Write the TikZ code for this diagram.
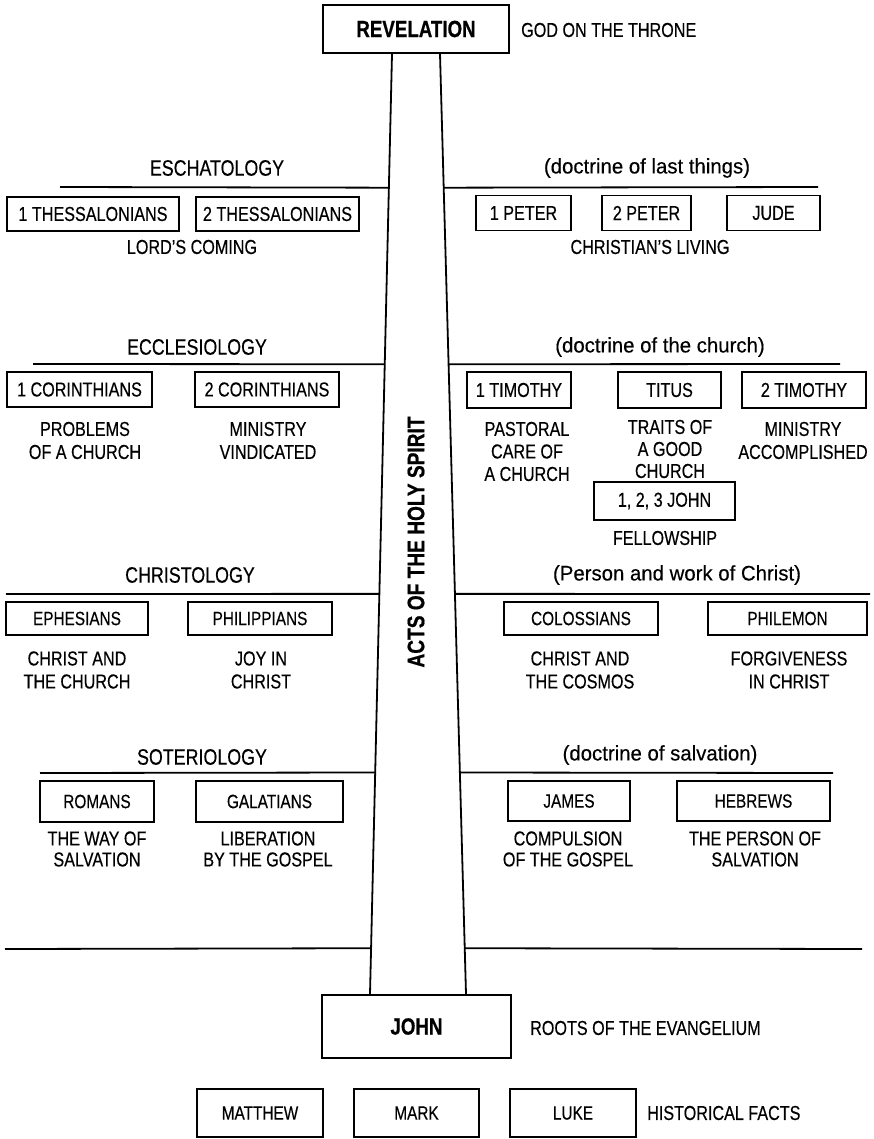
\documentclass[tikz,border=0pt]{standalone}
\usepackage{fontspec}
\setmainfont{Liberation Sans}[FakeStretch=0.8, FakeBold=0.35, BoldFeatures={FakeBold=0.6}]
\newfontfamily\pfont{Liberation Sans}[FakeStretch=0.97, FakeBold=0.35]
\usetikzlibrary{calc}
\begin{document}
\begin{tikzpicture}[x=1pt,y=-1pt,
  bx/.style={draw, line width=1.8pt, inner sep=0pt, font=\fontsize{20.2}{23}\selectfont},
  bxs/.style={bx, font=\fontsize{19.2}{23}\selectfont},
  lbl/.style={inner sep=0pt, align=center, font=\fontsize{20.2}{23}\selectfont},
  lbls/.style={lbl, font=\fontsize{20.2}{21}\selectfont},
  ttl/.style={inner sep=0pt, font=\fontsize{22.3}{26}\selectfont},
  ptl/.style={inner sep=0pt, font=\pfont\fontsize{21}{25}\selectfont},
  bigb/.style={draw, line width=1.8pt, inner sep=0pt, font=\bfseries\fontsize{23.4}{27}\selectfont},
  rule/.style={line width=1.8pt}]
\useasboundingbox (0,0) rectangle (874,1139);
\fill[white] (0,0) rectangle (874,1139);

% top and bottom boxes
\node[bigb, minimum width=186pt, minimum height=48pt] (rev) at (416,29) {REVELATION};
\node[lbl, anchor=west] (revd) at (521,30) {GOD ON THE THRONE};
\node[bigb, minimum width=189pt, minimum height=63pt] (john) at (416.5,1026.5) {JOHN};
\node[lbl, anchor=west] (johnd) at (530,1028) {ROOTS OF THE EVANGELIUM};

% pillar
\coordinate (pTL) at ($(rev.south)+(-24,0)$);
\coordinate (pTR) at ($(rev.south)+(24,0)$);
\coordinate (pBL) at ($(john.north)+(-46.5,0)$);
\coordinate (pBR) at ($(john.north)+(49.5,0)$);
\draw[rule] (pTL) -- (pBL);
\draw[rule] (pTR) -- (pBR);
\node[rotate=90, inner sep=0pt, font=\bfseries\fontsize{23.9}{28}\selectfont] (acts) at (416,542) {ACTS OF THE HOLY SPIRIT};

% rule end points
\coordinate (a1L) at ($(pTL)!0.1423!(pBL)$);
\coordinate (a1R) at ($(pTR)!0.1423!(pBR)$);
\coordinate (a2L) at ($(pTL)!0.3301!(pBL)$);
\coordinate (a2R) at ($(pTR)!0.3301!(pBR)$);
\coordinate (a3L) at ($(pTL)!0.5743!(pBL)$);
\coordinate (a3R) at ($(pTR)!0.5743!(pBR)$);
\coordinate (a4L) at ($(pTL)!0.7643!(pBL)$);
\coordinate (a4R) at ($(pTR)!0.7643!(pBR)$);
\coordinate (a5L) at ($(pTL)!0.9512!(pBL)$);
\coordinate (a5R) at ($(pTR)!0.9512!(pBR)$);
\coordinate (f1L) at (60,187);  \coordinate (f1R) at (818,187);
\coordinate (f2L) at (33,364);  \coordinate (f2R) at (840,364);
\coordinate (f3L) at (6,594);   \coordinate (f3R) at (870,594);
\coordinate (f4L) at (40,773);  \coordinate (f4R) at (833,773);
\coordinate (f5L) at (5,949);   \coordinate (f5R) at (862,949);
\draw[rule] (f1L) -- (a1L); \draw[rule] (a1R) -- (f1R);
\draw[rule] (f2L) -- (a2L); \draw[rule] (a2R) -- (f2R);
\draw[rule] (f3L) -- (a3L); \draw[rule] (a3R) -- (f3R);
\draw[rule] (f4L) -- (a4L); \draw[rule] (a4R) -- (f4R);
\draw[rule] (f5L) -- (a5L); \draw[rule] (a5R) -- (f5R);

% Row 1: eschatology
\node[ttl] (esch) at (217,168) {ESCHATOLOGY};
\node[ptl] (eschd) at (647,168) {(doctrine of last things)};
\node[bx, minimum width=172pt, minimum height=34pt] (th1) at (93,214) {1 THESSALONIANS};
\node[bx, minimum width=163pt, minimum height=34pt] (th2) at (277.5,214) {2 THESSALONIANS};
\node[lbl] (thd) at (192,247) {LORD'S COMING};
\node[bx, minimum width=95pt, minimum height=35pt] (pe1) at (523.5,213) {1 PETER};
\node[bx, minimum width=89pt, minimum height=35pt] (pe2) at (646.5,213) {2 PETER};
\node[bx, minimum width=93pt, minimum height=35pt] (jude) at (773.5,213) {JUDE};
\node[lbl] (ped) at (650,247) {CHRISTIAN'S LIVING};

% Row 2: ecclesiology
\node[ttl] (eccl) at (197,347) {ECCLESIOLOGY};
\node[ptl] (eccld) at (660,347) {(doctrine of the church)};
\node[bx, minimum width=145pt, minimum height=35pt] (co1) at (79.5,389.5) {1 CORINTHIANS};
\node[bx, minimum width=144pt, minimum height=35pt] (co2) at (267,389.5) {2 CORINTHIANS};
\node[lbl] (co1d) at (85,440.5) {PROBLEMS\\OF A CHURCH};
\node[lbl] (co2d) at (268,440.5) {MINISTRY\\VINDICATED};
\node[bx, minimum width=104pt, minimum height=36pt] (ti1) at (519,390) {1 TIMOTHY};
\node[bx, minimum width=103pt, minimum height=36pt] (tit) at (669.5,390) {TITUS};
\node[bx, minimum width=124pt, minimum height=36pt] (ti2) at (804,390) {2 TIMOTHY};
\node[lbl, font=\fontsize{20.2}{22.5}\selectfont] (ti1d) at (527,451.5) {PASTORAL\\CARE OF\\A CHURCH};
\node[lbl, font=\fontsize{20.2}{22}\selectfont] (titd) at (670,449) {TRAITS OF\\A GOOD\\CHURCH};
\node[lbl] (ti2d) at (803,440.5) {MINISTRY\\ACCOMPLISHED};
\node[bx, minimum width=141pt, minimum height=38pt] (jo) at (664.5,501) {1, 2, 3 JOHN};
\node[lbl] (jod) at (665,538) {FELLOWSHIP};

% Row 3: christology
\node[ttl] (chr) at (190,575) {CHRISTOLOGY};
\node[ptl] (chrd) at (677,575) {(Person and work of Christ)};
\node[bxs, minimum width=142pt, minimum height=33pt] (eph) at (77,618.5) {EPHESIANS};
\node[bxs, minimum width=144pt, minimum height=33pt] (phi) at (260,618.5) {PHILIPPIANS};
\node[lbl] (ephd) at (77,670) {CHRIST AND\\THE CHURCH};
\node[lbl] (phid) at (261,670) {JOY IN\\CHRIST};
\node[bxs, minimum width=154pt, minimum height=33pt] (col) at (581,618.5) {COLOSSIANS};
\node[bxs, minimum width=159pt, minimum height=33pt] (phm) at (787.5,618.5) {PHILEMON};
\node[lbl] (cold) at (580,670) {CHRIST AND\\THE COSMOS};
\node[lbl] (phmd) at (789,670) {FORGIVENESS\\IN CHRIST};

% Row 4: soteriology
\node[ttl] (sot) at (202,757) {SOTERIOLOGY};
\node[ptl] (sotd) at (660,755) {(doctrine of salvation)};
\node[bxs, minimum width=114pt, minimum height=41pt] (rom) at (97,801.5) {ROMANS};
\node[bxs, minimum width=147pt, minimum height=41pt] (gal) at (269.5,801.5) {GALATIANS};
\node[lbls] (romd) at (97,849) {THE WAY OF\\SALVATION};
\node[lbls] (gald) at (268,849) {LIBERATION\\BY THE GOSPEL};
\node[bxs, minimum width=122pt, minimum height=40pt] (jam) at (569,801) {JAMES};
\node[bxs, minimum width=153pt, minimum height=40pt] (heb) at (753.5,801) {HEBREWS};
\node[lbls] (jamd) at (568,849) {COMPULSION\\OF THE GOSPEL};
\node[lbls] (hebd) at (755,849) {THE PERSON OF\\SALVATION};

% Gospels
\node[bxs, minimum width=126pt, minimum height=48pt] (mat) at (260,1113) {MATTHEW};
\node[bxs, minimum width=125pt, minimum height=48pt] (mar) at (416.5,1113) {MARK};
\node[bxs, minimum width=126pt, minimum height=48pt] (luk) at (573,1113) {LUKE};
\node[lbl, anchor=west] (hist) at (647,1113) {HISTORICAL FACTS};
\end{tikzpicture}
\end{document}
